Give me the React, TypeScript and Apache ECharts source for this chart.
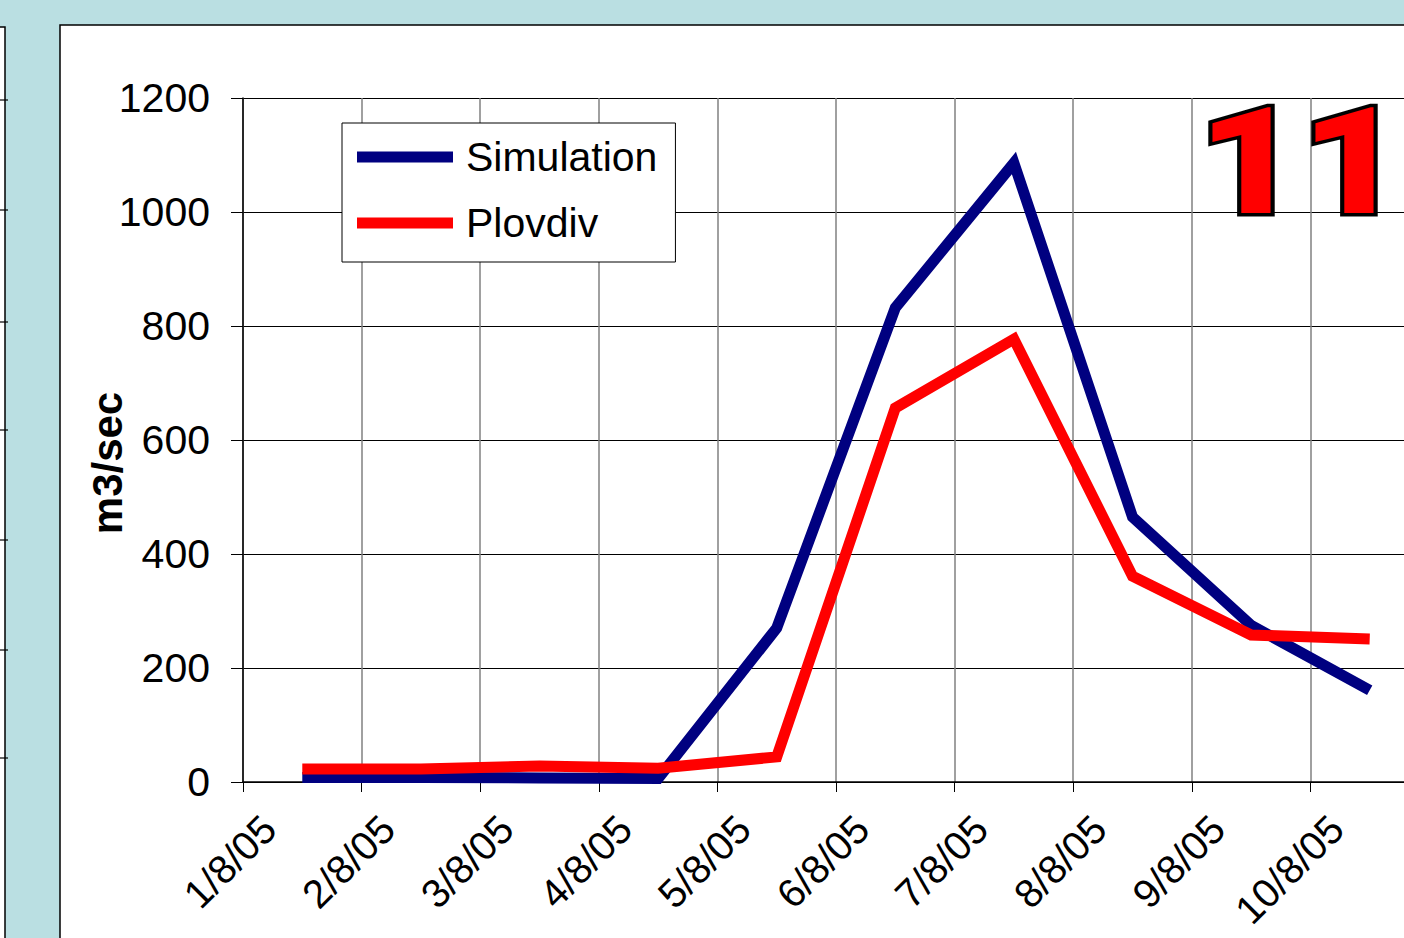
import React, { useEffect, useRef } from "react";
import * as echarts from "echarts";

// Monthly dates along the x axis (tick labels)
const dateLabels = [
  "1/8/05", "2/8/05", "3/8/05", "4/8/05", "5/8/05",
  "6/8/05", "7/8/05", "8/8/05", "9/8/05", "10/8/05",
];

// Discharge values (m3/sec), one per interval, plotted mid-way between ticks
const simulation = [8, 8, 7, 6, 270, 832, 1086, 465, 275, 161];
const plovdiv = [23, 23, 28, 24, 44, 656, 777, 361, 258, 251];

const yTicks = { min: 0, max: 1200, step: 200 };
const FONT = "Liberation Sans, Arial, sans-serif";

const toPoints = (values: number[]) => values.map((v, i) => [i + 0.5, v]);

export default function App() {
  const ref = useRef<HTMLDivElement>(null);

  useEffect(() => {
    document.body.style.margin = "0";
    if (!ref.current) return;
    const chart = echarts.init(ref.current, null, { renderer: "svg" });

    const stripTicks = [100, 210, 322, 430, 540, 650, 758];

    chart.setOption({
      animation: false,
      backgroundColor: "#badfe2",
      textStyle: { fontFamily: FONT },
      graphic: [
        // white slide panel behind the chart
        {
          type: "rect",
          z: -10,
          shape: { x: 60, y: 25, width: 1400, height: 960 },
          style: { fill: "#ffffff", stroke: "#000000", lineWidth: 1.5 },
        },
        // edge of the neighbouring panel on the left
        {
          type: "rect",
          z: -10,
          shape: { x: -4, y: 27, width: 9, height: 960 },
          style: { fill: "#ffffff", stroke: "#000000", lineWidth: 1.5 },
        },
        ...stripTicks.map((y) => ({
          type: "line",
          z: -9,
          shape: { x1: 0, y1: y, x2: 8, y2: y },
          style: { stroke: "#000000", lineWidth: 1.2 },
        })),
        // slide number
        {
          type: "text",
          z: 100,
          x: 1198,
          y: 88,
          scaleX: 1.2,
          style: {
            text: "11",
            fontFamily: "Roboto",
            fontSize: 148,
            fontWeight: 900,
            fill: "#ff0000",
            stroke: "#000000",
            lineWidth: 7,
          },
        },
      ],
      legend: {
        orient: "vertical",
        left: 342,
        top: 123,
        itemWidth: 96,
        itemHeight: 11,
        itemGap: 18,
        padding: [10, 18, 15, 15],
        backgroundColor: "#ffffff",
        borderColor: "#000000",
        borderWidth: 1,
        borderRadius: 0,
        textStyle: {
          fontSize: 41,
          lineHeight: 48,
          color: "#000000",
          fontFamily: FONT,
          padding: [0, 0, 0, 8],
        },
        data: [
          { name: "Simulation", icon: "rect", itemStyle: { color: "#000080" } },
          { name: "Plovdiv", icon: "rect", itemStyle: { color: "#ff0000" } },
        ],
      },
      grid: { left: 243, top: 98, width: 1186, height: 684, outerBoundsMode: "none", containLabel: false },
      xAxis: {
        type: "value",
        min: 0,
        max: dateLabels.length,
        interval: 1,
        axisLine: { show: true, onZero: false, lineStyle: { color: "#000000", width: 1.5 } },
        axisTick: { show: true, inside: false, length: 10, lineStyle: { color: "#000000", width: 1 } },
        splitLine: { show: true, lineStyle: { color: "#808080", width: 1.5 } },
        axisLabel: {
          rotate: 45,
          margin: 14,
          verticalAlign: "top",
          lineHeight: 74,
          fontSize: 40,
          color: "#000000",
          fontFamily: FONT,
          showMaxLabel: false,
          formatter: (v: number) => dateLabels[Math.round(v)] ?? "",
        },
      },
      yAxis: {
        type: "value",
        min: yTicks.min,
        max: yTicks.max,
        interval: yTicks.step,
        name: "m3/sec",
        nameLocation: "middle",
        nameGap: 115,
        nameMoveOverlap: false,
        nameTextStyle: {
          fontSize: 42,
          fontWeight: "bold",
          color: "#000000",
          fontFamily: FONT,
          padding: [0, 46, 0, 0],
        },
        axisLine: { show: true, lineStyle: { color: "#000000", width: 1.5 } },
        axisTick: { show: true, inside: false, length: 12, lineStyle: { color: "#000000", width: 1 } },
        splitLine: { show: true, lineStyle: { color: "#000000", width: 1 } },
        axisLabel: {
          margin: 33,
          fontSize: 41,
          color: "#000000",
          fontFamily: FONT,
          formatter: (v: number) => String(v),
        },
      },
      series: [
        {
          name: "Simulation",
          type: "line",
          data: toPoints(simulation),
          symbol: "none",
          clip: false,
          color: "#000080",
          lineStyle: { color: "#000080", width: 11, cap: "butt", join: "miter" },
          z: 3,
        },
        {
          name: "Plovdiv",
          type: "line",
          data: toPoints(plovdiv),
          symbol: "none",
          clip: false,
          color: "#ff0000",
          lineStyle: { color: "#ff0000", width: 11, cap: "butt", join: "miter" },
          z: 4,
        },
      ],
    });

    return () => chart.dispose();
  }, []);

  return <div ref={ref} style={{ width: 1404, height: 938, overflow: "hidden" }} />;
}
